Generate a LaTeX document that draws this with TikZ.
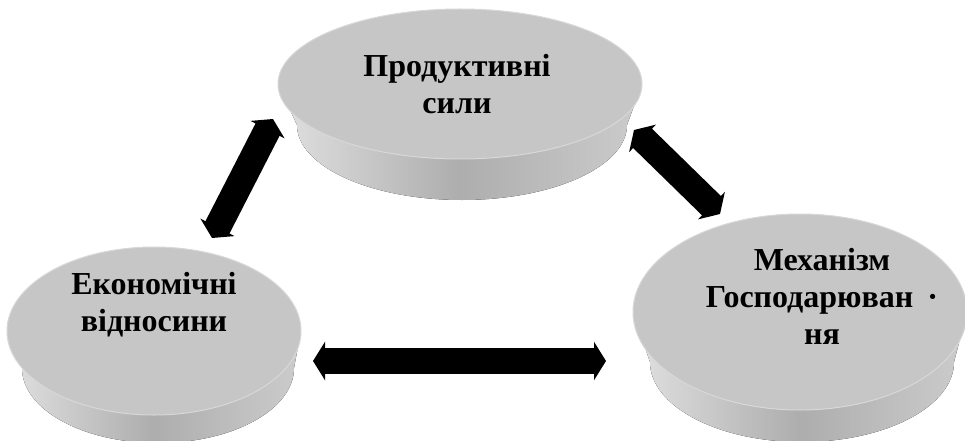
\documentclass[tikz,border=0pt]{standalone}
\usepackage{fontspec}
\setmainfont{Liberation Serif}
\usetikzlibrary{arrows.meta}
\definecolor{facegray}{HTML}{C6C6C6}
\definecolor{rimgray}{HTML}{D8D8D8}
\tikzset{
	face/.style={fill=facegray, draw=rimgray, line width=1pt},
	side/.style={left color=white!88!black, right color=white!80!black, middle color=white!68!black},
	label/.style={font=\bfseries\fontsize{32}{37}\selectfont, align=center, inner sep=0pt},
	dblarrow/.style={line width=27pt, {Triangle[length=12pt,width=38pt]}-{Triangle[length=12pt,width=38pt]}}
}
\begin{document}
\begin{tikzpicture}[x=1pt,y=-1pt]
		\useasboundingbox (0,0) rectangle (965,441);
		\fill[side] (278,84)--(297,125) arc[start angle=180, end angle=0, x radius=165, y radius=75]--(642,84)--cycle;
		\filldraw[face] (460,84) ellipse [x radius=182, y radius=75];
		\fill[side] (7,331)--(22,368) arc[start angle=180, end angle=0, x radius=136, y radius=75]--(301,331)--cycle;
		\filldraw[face] (154,331) ellipse [x radius=147, y radius=84];
		\fill[side] (633,312)--(650,362) arc[start angle=180, end angle=0, x radius=152, y radius=80]--(967,312)--cycle;
		\filldraw[face] (800,312) ellipse [x radius=167, y radius=98];
		\node[label] (prod) at (457,84) {Продуктивні\\сили};
		\node[label] (eco) at (154,305) {Економічні\\відносини};
		\node[label] (mech) at (822,296) {Механізм\\Господарюван\hspace{14pt}·\\ня};
		\coordinate (pl) at (273,119);
		\coordinate (el) at (212,238);
		\coordinate (pr) at (634,130);
		\coordinate (mr) at (720,214);
		\coordinate (eb) at (313,361);
		\coordinate (mb) at (606,361);
		\draw[dblarrow] (el)--(pl);
		\draw[dblarrow] (pr)--(mr);
		\draw[dblarrow, line width=26pt] (eb)--(mb);
	\end{tikzpicture}
\end{document}
